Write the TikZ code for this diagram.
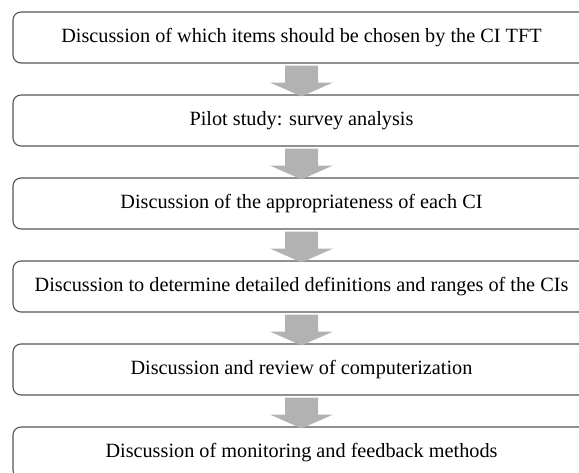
\documentclass[tikz,border=0pt]{standalone}
\usepackage{fontspec}
\setmainfont{Liberation Serif}
\usetikzlibrary{calc}
\definecolor{boxgray}{RGB}{85,85,85}
\definecolor{arrowgray}{RGB}{178,178,178}
\begin{document}
\begin{tikzpicture}[x=1pt,y=-1pt,
  stepbox/.style={draw=boxgray, line width=1.1pt, rounded corners=8pt,
    minimum width=577pt, minimum height=51pt, inner sep=0pt,
    font=\fontsize{20.25}{23}\selectfont, text=black},
  flowarrow/.style={fill=arrowgray}]
\useasboundingbox (0,0) rectangle (579,473);
\clip (0,0) rectangle (579,473);
\node[stepbox] (b1) at (301.5,37.5) {Discussion of which items should be chosen by the CI TFT};
\node[stepbox] (b2) at (301.5,120.5) {Pilot study: survey analysis};
\node[stepbox] (b3) at (301.5,203.5) {Discussion of the appropriateness of each CI};
\node[stepbox] (b4) at (301.5,286.5) {Discussion to determine detailed definitions and ranges of the CIs};
\node[stepbox] (b5) at (301.5,369.5) {Discussion and review of computerization};
\node[stepbox] (b6) at (301.5,452.5) {Discussion of monitoring and feedback methods};
\foreach \a/\b in {b1/b2,b2/b3,b3/b4,b4/b5,b5/b6}{
  \fill[flowarrow] ($(\a.south)+(-16.5,2)$) -- ($(\a.south)+(16.5,2)$)
    -- ($(\a.south)+(16.5,19)$) -- ($(\a.south)+(31.5,19)$)
    -- ($(\b.north)+(0,2)$) -- ($(\a.south)+(-31.5,19)$)
    -- ($(\a.south)+(-16.5,19)$) -- cycle;
}
\end{tikzpicture}
\end{document}
